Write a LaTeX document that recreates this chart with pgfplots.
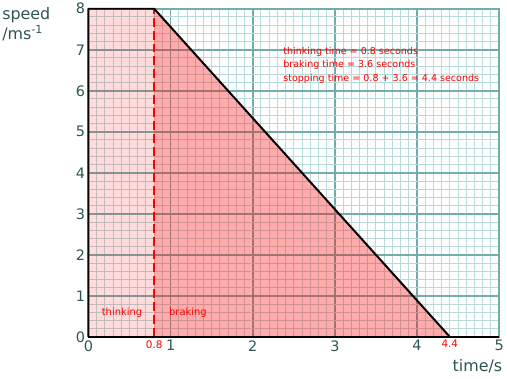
\documentclass[border=0pt]{standalone}
\usepackage{pgfplots}
\pgfplotsset{compat=1.18}
\usepackage{fontspec}
\setmainfont{DejaVu Sans}
\definecolor{tickc}{RGB}{45,85,85}
\definecolor{minorg}{RGB}{185,218,218}
\definecolor{majorg}{RGB}{115,172,172}
\begin{document}
\begin{tikzpicture}
\begin{axis}[
  scale only axis,
  width=413bp, height=330bp,
  xmin=0, xmax=5, ymin=0, ymax=8,
  xtick={0,1,2,3,4,5}, ytick={0,1,2,3,4,5,6,7,8},
  extra x ticks={0.8,4.4},
  extra x tick style={tick label style={text=red, font=\fontsize{10.5bp}{12bp}\selectfont}, grid=none},
  minor x tick num=9, minor y tick num=4,
  grid=both,
  minor grid style={minorg, line width=1bp},
  major grid style={majorg, line width=1.6bp},
  major tick length=0pt, minor tick length=0pt,
  axis line style={majorg, line width=1.6bp},
  tick label style={text=tickc, font=\fontsize{14.5bp}{16bp}\selectfont},
  /pgf/number format/assume math mode=true,
  clip=false,
]
% bounding box
\path (rel axis cs:-0.2155,1.0182) rectangle (rel axis cs:1.0121,-0.1273);
% fills
\addplot[draw=none, fill=red, fill opacity=0.14] coordinates {(0,0) (0,8) (0.8,8) (0.8,0)} -- cycle;
\addplot[draw=none, fill=red, fill opacity=0.33] coordinates {(0.8,0) (0.8,8) (4.4,0)} -- cycle;
% dashed line
\addplot[red, line width=1.4bp, dash pattern=on 9bp off 4bp] coordinates {(0.8,0) (0.8,8)};
% graph
\addplot[black, line width=2bp, line join=round] coordinates {(0,0) (0,8) (0.8,8) (4.4,0)};
\addplot[black, line width=2bp] coordinates {(0,0) (5,0)};
% labels
\node[anchor=north west, text=tickc, align=left, font=\fontsize{16bp}{20bp}\selectfont, inner sep=0pt]
  at (rel axis cs:-0.2105,1.005) {speed\\/ms\textsuperscript{-1}};
\node[anchor=base east, text=tickc, font=\fontsize{16bp}{18bp}\selectfont, inner sep=0pt]
  at (rel axis cs:1.008,-0.1045) {time/s};
\node[anchor=north west, text=red, align=left, font=\fontsize{9.6bp}{13.5bp}\selectfont, inner sep=0pt]
  at (axis cs:2.37,7.07) {thinking time = 0.8 seconds\\braking time = 3.6 seconds\\stopping time = 0.8 + 3.6 = 4.4 seconds};
\node[anchor=west, text=red, font=\fontsize{10bp}{11bp}\selectfont, inner sep=0pt] at (axis cs:0.16,0.58) {thinking};
\node[anchor=west, text=red, font=\fontsize{10bp}{11bp}\selectfont, inner sep=0pt] at (axis cs:0.98,0.58) {braking};
\end{axis}
\end{tikzpicture}
\end{document}
